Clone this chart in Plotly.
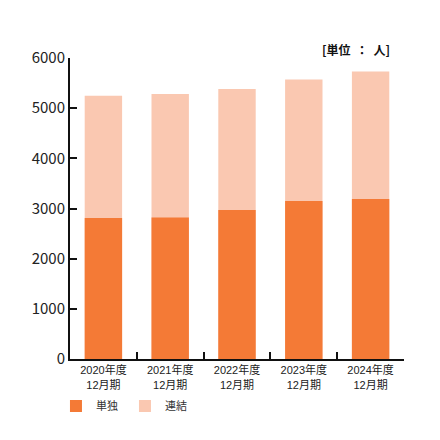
import plotly.graph_objects as go

categories = ["2020年度<br>12月期", "2021年度<br>12月期", "2022年度<br>12月期",
              "2023年度<br>12月期", "2024年度<br>12月期"]
standalone = [2810, 2820, 2970, 3150, 3190]   # 単独
consolidated = [5250, 5280, 5380, 5570, 5730]  # 連結
y_ticks = [0, 1000, 2000, 3000, 4000, 5000, 6000]

FONT = "Noto Sans CJK JP, Noto Sans, sans-serif"
LABEL_FONT = "Liberation Sans, Noto Sans CJK JP, sans-serif"
DARK = "#F47A36"
LIGHT = "#FAC8B1"

fig = go.Figure()
fig.add_trace(go.Bar(x=categories, y=consolidated, name="連結",
                     marker=dict(color=LIGHT, line=dict(width=0)), legendrank=2))
fig.add_trace(go.Bar(x=categories, y=standalone, name="単独",
                     marker=dict(color=DARK, line=dict(width=0)), legendrank=1))

fig.update_layout(
    width=440, height=440,
    margin=dict(l=62, r=44, t=50, b=89),
    paper_bgcolor="white", plot_bgcolor="white",
    barmode="overlay", bargap=0.44,
    font=dict(family=FONT, color="#222"),
    showlegend=True,
    legend=dict(orientation="h", x=-0.042, xanchor="left", y=-0.156, yanchor="middle",
                bgcolor="rgba(0,0,0,0)",
                font=dict(size=11, family=FONT, color="#333"),
                itemwidth=30, entrywidth=24, tracegroupgap=0),
    annotations=[dict(text="[単位  ：  人]", xref="paper", yref="paper",
                      x=0.964, y=1.027, xanchor="right", yanchor="middle",
                      showarrow=False,
                      font=dict(size=12, family=FONT, color="#111", weight="bold"))],
)
fig.update_xaxes(showline=True, linecolor="#111", linewidth=2,
                 ticks="inside", tickson="boundaries", ticklen=7, tickwidth=2, tickcolor="#111",
                 showgrid=False, tickfont=dict(size=11, family=LABEL_FONT, color="#222"))
fig.update_yaxes(range=[0, 6000], tickvals=y_ticks, showline=True, linecolor="#111", linewidth=2,
                 ticks="inside", ticklen=7, tickwidth=2, tickcolor="#111",
                 showgrid=False, zeroline=False,
                 tickfont=dict(size=15, family=FONT, color="#222"))

fig.write_html("out.html")
